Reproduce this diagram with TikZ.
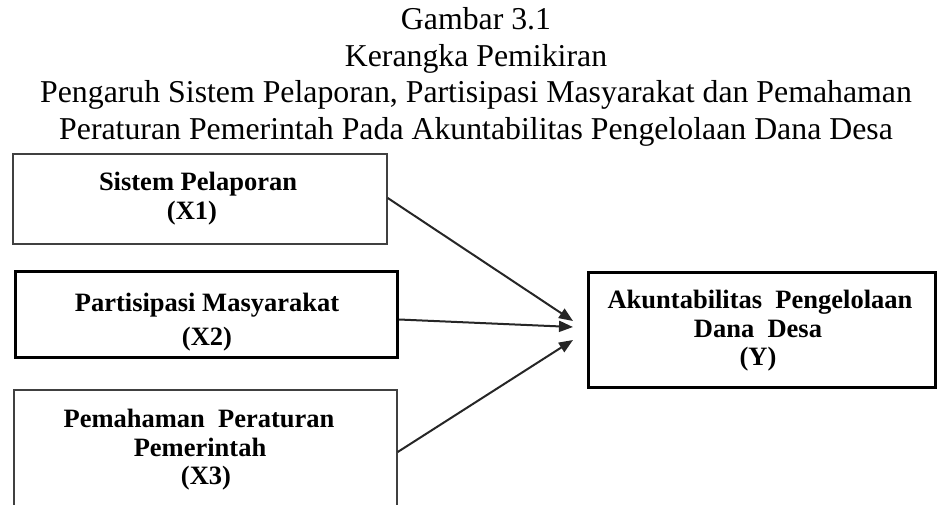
\documentclass[tikz,border=0pt]{standalone}
\usepackage{fontspec}
\setmainfont{Liberation Serif}
\usetikzlibrary{arrows.meta,calc}
\begin{document}
\begin{tikzpicture}[x=1pt,y=-1pt,
  thinbox/.style={draw=black!75,line width=1.4pt,rectangle,inner sep=0pt},
  thickbox/.style={draw=black,line width=3pt,rectangle,inner sep=0pt},
  ttl/.style={anchor=base,inner sep=0pt,font=\fontsize{31.8}{36}\selectfont},
  lbl/.style={anchor=base,inner sep=0pt,font=\fontsize{26.5}{28}\selectfont\bfseries},
  arr/.style={draw=black!85,line width=2pt,-{Triangle[length=14pt,width=11pt]}}]
\useasboundingbox (0,0) rectangle (939,505);
\clip (0,0) rectangle (939,505);
% title
\node[ttl] (t1) at (476,30) {Gambar 3.1};
\node[ttl] (t2) at (476,67) {Kerangka Pemikiran};
\node[ttl] (t3) at (476,103) {Pengaruh Sistem Pelaporan, Partisipasi Masyarakat dan Pemahaman};
\node[ttl] (t4) at (476,140) {Peraturan Pemerintah Pada Akuntabilitas Pengelolaan Dana Desa};
% boxes
\node[thinbox,minimum width=374pt,minimum height=90pt] (x1) at (200,199) {};
\node[thickbox,minimum width=382pt,minimum height=86pt] (x2) at (206.5,314.5) {};
\node[thinbox,minimum width=383pt,minimum height=130pt] (x3) at (205.5,455) {};
\node[thickbox,minimum width=347pt,minimum height=115pt] (yb) at (762,330) {};
% box texts
\node[lbl] (x1a) at (198,191) {Sistem Pelaporan};
\node[lbl] (x1b) at (192,219) {(X1)};
\node[lbl] (x2a) at (207,311) {Partisipasi Masyarakat};
\node[lbl] (x2b) at (207,345) {(X2)};
\node[lbl] (x3a) at (199,427) {Pemahaman\ \ Peraturan};
\node[lbl] (x3b) at (200,456) {Pemerintah};
\node[lbl] (x3c) at (206,484) {(X3)};
\node[lbl] (ya) at (760,308) {Akuntabilitas\ \ Pengelolaan};
\node[lbl] (yb2) at (758,337) {Dana\ \ Desa};
\node[lbl] (yc) at (758,365) {(Y)};
% arrow ends
\coordinate (e1) at ($(yb.west)+(-14,-9)$);
\coordinate (e2) at ($(yb.west)+(-14,-3)$);
\coordinate (e3) at ($(yb.west)+(-14,10)$);
\draw[arr] ($(x1.east)+(0,-1)$) -- (e1);
\draw[arr] ($(x2.east)+(0,5)$) -- (e2);
\draw[arr] ($(x3.east)+(0,-3)$) -- (e3);
\end{tikzpicture}
\end{document}
